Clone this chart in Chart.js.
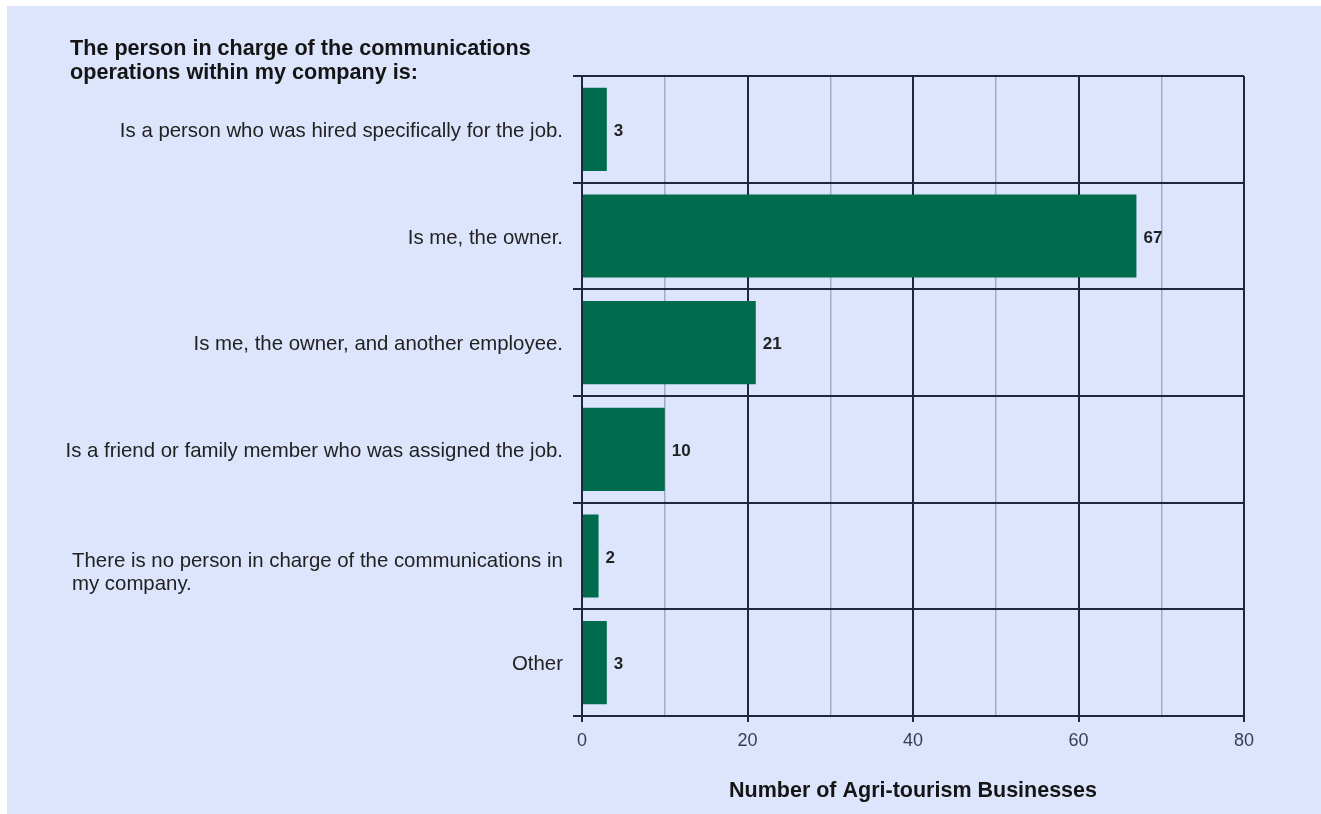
<!DOCTYPE html>
<html>
<head>
<meta charset="utf-8">
<title>Communications operations</title>
<script src="https://cdn.jsdelivr.net/npm/chart.js@4.4.1/dist/chart.umd.min.js"></script>
<style>
  html, body { margin: 0; padding: 0; background: #ffffff; }
  #wrap {
    position: absolute;
    left: 7px;
    top: 6px;
    width: 1314px;
    height: 808px;
    background: #dce5fc;
  }
</style>
</head>
<body>
<div id="wrap">
  <canvas id="commsChart" width="1314" height="808"></canvas>
</div>
<script>
const titleLines = ['The person in charge of the communications', 'operations within my company is:'];
const categories = [
    'Is a person who was hired specifically for the job.',
    'Is me, the owner.',
    'Is me, the owner, and another employee.',
    'Is a friend or family member who was assigned the job.',
    ['There is no person in charge of the communications in', 'my company.'],
    'Other'
];
const counts = [3, 67, 21, 10, 2, 3];
const xTicks = [0, 20, 40, 60, 80];
const xTitle = 'Number of Agri-tourism Businesses';

const DARK = '#1f2644';
const MINOR = '#a3abc3';
const FONT = "'Liberation Sans', Arial, sans-serif";

// question text at the top left plus the category labels left of the bars
const sideText = {
    id: 'sideText',
    afterDraw(chart) {
        const { ctx, scales: { y } } = chart;
        ctx.save();
        ctx.fillStyle = '#151515';
        ctx.font = 'bold 21.6px ' + FONT;
        ctx.textAlign = 'left';
        ctx.textBaseline = 'alphabetic';
        titleLines.forEach((t, i) => ctx.fillText(t, 63, 49 + i * 24));

        ctx.font = '20.4px ' + FONT;
        ctx.fillStyle = '#222222';
        ctx.textBaseline = 'middle';
        categories.forEach((label, i) => {
            const cy = y.getPixelForValue(i) + 2;
            if (Array.isArray(label)) {
                // wrapped label: left aligned block, first line level with the bar
                ctx.textAlign = 'left';
                label.forEach((line, j) => ctx.fillText(line, 65, cy + 3 + j * 23));
            } else {
                ctx.textAlign = 'right';
                ctx.fillText(label, 556, cy);
            }
        });
        ctx.restore();
    }
};

// numbers at the end of each bar
const barValues = {
    id: 'barValues',
    afterDatasetsDraw(chart) {
        const { ctx } = chart;
        const meta = chart.getDatasetMeta(0);
        ctx.save();
        ctx.font = 'bold 17px ' + FONT;
        ctx.fillStyle = '#222222';
        ctx.textAlign = 'left';
        ctx.textBaseline = 'middle';
        meta.data.forEach((bar, i) => {
            ctx.fillText(String(counts[i]), bar.x + 7, bar.y + 2);
        });
        ctx.restore();
    }
};

document.addEventListener('DOMContentLoaded', () => {
    const ctx = document.getElementById('commsChart').getContext('2d');

    new Chart(ctx, {
        type: 'bar',
        data: {
            labels: categories,
            datasets: [{
                data: counts,
                backgroundColor: '#006b4d',
                categoryPercentage: 1,
                barPercentage: 0.78
            }]
        },
        options: {
            indexAxis: 'y',
            responsive: false,
            animation: false,
            layout: { padding: { left: 566, top: 70, right: 77, bottom: 0 } },
            plugins: { legend: false, tooltip: { enabled: false } },
            scales: {
                x: {
                    min: 0,
                    max: 80,
                    afterFit: s => { s.height = 98; },
                    ticks: {
                        stepSize: 10,
                        autoSkip: false,
                        maxRotation: 0,
                        padding: 8,
                        color: '#363d52',
                        font: { family: FONT, size: 18 },
                        callback: v => xTicks.includes(v) ? v : ''
                    },
                    grid: {
                        color: c => c.tick && c.tick.value % 20 === 0 ? DARK : MINOR,
                        lineWidth: c => c.tick && c.tick.value % 20 === 0 ? 2 : 1.5,
                        tickColor: c => c.tick && c.tick.value % 20 === 0 ? DARK : 'rgba(0,0,0,0)',
                        tickLength: 6
                    },
                    border: { display: true, color: DARK, width: 2 },
                    title: {
                        display: true,
                        text: xTitle,
                        color: '#151515',
                        font: { family: FONT, size: 21.5, weight: 'bold' },
                        padding: { top: 0, bottom: 10 }
                    }
                },
                y: {
                    afterFit: s => { s.width = 9; },
                    ticks: { display: false },
                    grid: {
                        offset: true,
                        color: DARK,
                        lineWidth: 2,
                        tickLength: 9
                    },
                    border: { display: true, color: DARK, width: 2 }
                }
            }
        },
        plugins: [sideText, barValues]
    });
});
</script>
</body>
</html>
